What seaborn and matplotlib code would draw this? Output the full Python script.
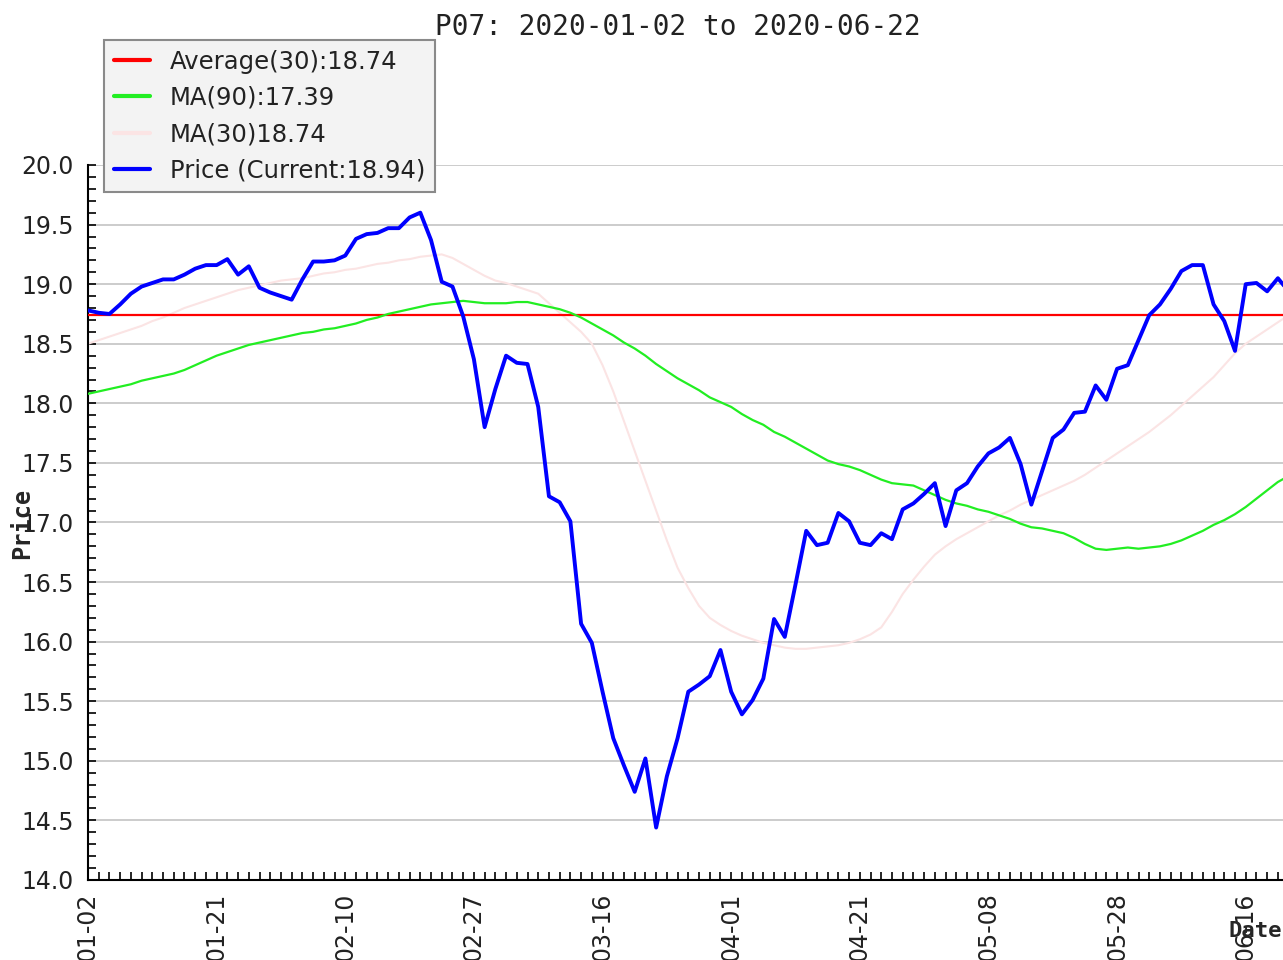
import matplotlib
matplotlib.use('Agg')

import matplotlib.pyplot as plt
import seaborn as sns
import numpy as np
from matplotlib.ticker import MultipleLocator, FormatStrFormatter


# ---------------------------------------------------
# Data
# ---------------------------------------------------

title_text = 'P07: 2020-01-02 to 2020-06-22'

tick_labels = ['01-02', '01-21', '02-10', '02-27', '03-16',
               '04-01', '04-21', '05-08', '05-28', '06-16']

price = [
    18.78, 18.76, 18.75, 18.83, 18.92, 18.98, 19.01, 19.04, 19.04, 19.08,
    19.13, 19.16, 19.16, 19.21, 19.08, 19.15, 18.97, 18.93, 18.90, 18.87,
    19.04, 19.19, 19.19, 19.20, 19.24, 19.38, 19.42, 19.43, 19.47, 19.47,
    19.56, 19.60, 19.37, 19.02, 18.98, 18.73, 18.37, 17.80, 18.12, 18.40,
    18.34, 18.33, 17.97, 17.22, 17.17, 17.01, 16.15, 15.99, 15.58, 15.19,
    14.96, 14.74, 15.02, 14.44, 14.87, 15.19, 15.58, 15.64, 15.71, 15.93,
    15.58, 15.39, 15.51, 15.69, 16.19, 16.04, 16.48, 16.93, 16.81, 16.83,
    17.08, 17.01, 16.83, 16.81, 16.91, 16.86, 17.11, 17.16, 17.24, 17.33,
    16.97, 17.27, 17.33, 17.47, 17.58, 17.63, 17.71, 17.49, 17.15, 17.43,
    17.71, 17.78, 17.92, 17.93, 18.15, 18.03, 18.29, 18.32, 18.53, 18.74,
    18.83, 18.96, 19.11, 19.16, 19.16, 18.83, 18.69, 18.44, 19.00, 19.01,
    18.94, 19.05, 18.94,
]

ma90 = [
    18.08, 18.10, 18.12, 18.14, 18.16, 18.19, 18.21, 18.23, 18.25, 18.28,
    18.32, 18.36, 18.40, 18.43, 18.46, 18.49, 18.51, 18.53, 18.55, 18.57,
    18.59, 18.60, 18.62, 18.63, 18.65, 18.67, 18.70, 18.72, 18.75, 18.77,
    18.79, 18.81, 18.83, 18.84, 18.85, 18.86, 18.85, 18.84, 18.84, 18.84,
    18.85, 18.85, 18.83, 18.81, 18.79, 18.76, 18.72, 18.67, 18.62, 18.57,
    18.51, 18.46, 18.40, 18.33, 18.27, 18.21, 18.16, 18.11, 18.05, 18.01,
    17.97, 17.91, 17.86, 17.82, 17.76, 17.72, 17.67, 17.62, 17.57, 17.52,
    17.49, 17.47, 17.44, 17.40, 17.36, 17.33, 17.32, 17.31, 17.27, 17.23,
    17.19, 17.16, 17.14, 17.11, 17.09, 17.06, 17.03, 16.99, 16.96, 16.95,
    16.93, 16.91, 16.87, 16.82, 16.78, 16.77, 16.78, 16.79, 16.78, 16.79,
    16.80, 16.82, 16.85, 16.89, 16.93, 16.98, 17.02, 17.07, 17.13, 17.20,
    17.27, 17.34, 17.39,
]

ma30 = [
    18.50, 18.53, 18.56, 18.59, 18.62, 18.65, 18.69, 18.72, 18.76, 18.80,
    18.83, 18.86, 18.89, 18.92, 18.95, 18.97, 18.99, 19.01, 19.03, 19.04,
    19.05, 19.07, 19.09, 19.10, 19.12, 19.13, 19.15, 19.17, 19.18, 19.20,
    19.21, 19.23, 19.24, 19.25, 19.22, 19.17, 19.12, 19.07, 19.03, 19.01,
    18.98, 18.95, 18.92, 18.84, 18.76, 18.68, 18.60, 18.50, 18.32, 18.10,
    17.85, 17.60, 17.35, 17.10, 16.85, 16.62, 16.45, 16.30, 16.20, 16.14,
    16.09, 16.05, 16.02, 15.99, 15.97, 15.95, 15.94, 15.94, 15.95, 15.96,
    15.97, 15.99, 16.02, 16.06, 16.12, 16.25, 16.40, 16.52, 16.63, 16.73,
    16.80, 16.86, 16.91, 16.96, 17.01, 17.06, 17.10, 17.15, 17.19, 17.23,
    17.27, 17.31, 17.35, 17.40, 17.46, 17.52, 17.58, 17.64, 17.70, 17.76,
    17.83, 17.90, 17.98, 18.06, 18.14, 18.22, 18.32, 18.42, 18.50, 18.56,
    18.62, 18.68, 18.74,
]

avg30 = 18.74

legend_labels = ['Average(30):18.74', 'MA(90):17.39',
                 'MA(30)18.74', 'Price (Current:18.94)']


# ---------------------------------------------------
# Plot
# ---------------------------------------------------

sns.set_style('white')
plt.rcParams['font.family'] = ['DejaVu Sans']

W, H = 1283, 960
fig = plt.figure(figsize=(W / 100, H / 100), dpi=100)

# axes run past the right edge, as in the cropped reference
ax = fig.add_axes([88 / W, 80 / H, 1200.6 / W, 715 / H])

idx = np.arange(len(price))

ax.axhline(avg30, color='#ff0000', lw=1.6, label=legend_labels[0], zorder=3)

sns.lineplot(x=idx, y=ma90, ax=ax, color='#22ee22', lw=1.6,
             label=legend_labels[1], zorder=3)

sns.lineplot(x=idx, y=ma30, ax=ax, color='#fbe4e4', lw=1.5,
             label=legend_labels[2], zorder=2)

sns.lineplot(x=idx, y=price, ax=ax, color='#0000ff', lw=2.8,
             label=legend_labels[3], zorder=4)

ax.set_xlim(0, 112)
ax.set_ylim(14, 20)

ax.yaxis.set_major_locator(MultipleLocator(0.5))
ax.yaxis.set_minor_locator(MultipleLocator(0.1))
ax.yaxis.set_major_formatter(FormatStrFormatter('%.1f'))

ax.set_xticks(np.arange(0, 12 * len(tick_labels), 12))
ax.set_xticklabels(tick_labels, rotation=90)
ax.xaxis.set_minor_locator(MultipleLocator(1))

ax.tick_params(axis='both', which='both', direction='in',
               bottom=True, left=True, top=False, right=False,
               length=6, width=1.2, color='black',
               labelsize=17, labelcolor='#222222')
ax.tick_params(axis='y', pad=10)
ax.tick_params(axis='x', pad=9)

ax.grid(axis='y', color='#cccccc', lw=1.4)
ax.set_axisbelow(True)

for side in ['top', 'right']:
    ax.spines[side].set_visible(False)
for side in ['left', 'bottom']:
    ax.spines[side].set_color('black')
    ax.spines[side].set_linewidth(1.5)

ax.set_xlabel('')
ax.set_ylabel('')

fig.text(22 / W, 1 - 523 / H, 'Price', rotation=90,
         ha='center', va='center', fontsize=17,
         fontweight='bold', family='DejaVu Sans Mono')

fig.text(1228 / W, 1 - 931 / H, 'Date', ha='left', va='center',
         fontsize=16, fontweight='bold', family='DejaVu Sans Mono')

fig.text(678 / W, 1 - 27 / H, title_text, ha='center', va='center',
         fontsize=20, family='DejaVu Sans Mono', color='#222222')

leg = ax.legend(loc='upper left',
                bbox_to_anchor=(104 / W, 1 - 40 / H),
                bbox_transform=fig.transFigure,
                borderaxespad=0, fontsize=17.5,
                handlelength=1.5, handletextpad=0.8,
                labelspacing=0.5, borderpad=0.4,
                fancybox=False, framealpha=1,
                facecolor='#f3f3f3', edgecolor='#8a8a8a')
leg.get_frame().set_linewidth(1.5)
for t in leg.get_texts():
    t.set_color('#222222')
for h in leg.get_lines():
    h.set_linewidth(3)

plt.savefig('out.png', dpi=100)
plt.close()
